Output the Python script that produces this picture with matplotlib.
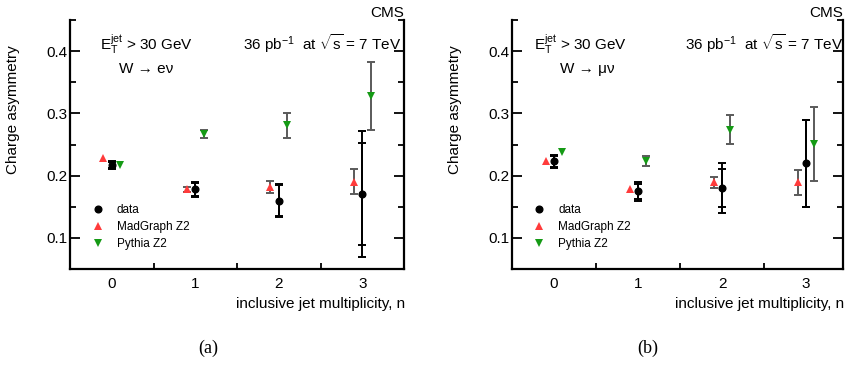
import numpy as np
import matplotlib
matplotlib.use("Agg")
import matplotlib.pyplot as plt
from matplotlib.lines import Line2D
from matplotlib.ticker import MultipleLocator, FixedLocator

plt.rcParams['font.family'] = ['Liberation Sans', 'DejaVu Sans']
plt.rcParams['mathtext.fontset'] = 'custom'
plt.rcParams['mathtext.rm'] = 'Liberation Sans'
plt.rcParams['mathtext.it'] = 'Liberation Sans'
plt.rcParams['mathtext.sf'] = 'Liberation Sans'

# inclusive jet multiplicity bins
n_jets = np.array([0, 1, 2, 3])
tick_labels = ["0", "1", "2", "3"]

# W -> e nu
data_e = np.array([0.217, 0.178, 0.160, 0.170])
data_e_stat = np.array([0.005, 0.010, 0.025, 0.082])
data_e_tot = np.array([0.0065, 0.012, 0.027, 0.101])
mg_e = np.array([0.228, 0.178, 0.182, 0.190])
mg_e_err = np.array([0.0, 0.004, 0.010, 0.020])
py_e = np.array([0.217, 0.267, 0.281, 0.328])
py_e_err = np.array([0.0, 0.007, 0.020, 0.055])

# W -> mu nu
data_m = np.array([0.223, 0.175, 0.180, 0.220])
data_m_stat = np.array([0.009, 0.012, 0.030, 0.070])
data_m_tot = np.array([0.010, 0.015, 0.040, 0.070])
mg_m = np.array([0.223, 0.178, 0.189, 0.189])
mg_m_err = np.array([0.0, 0.0, 0.009, 0.020])
py_m = np.array([0.238, 0.223, 0.274, 0.251])
py_m_err = np.array([0.0, 0.008, 0.023, 0.060])

RED = '#ff3b3b'
GREEN = '#159a15'
GREY = '#5a5a5a'
W, H = 850, 367

fig = plt.figure(figsize=(W / 100, H / 100), dpi=100)


def px_axes(x0, x1, y0, y1):
    return fig.add_axes([x0 / W, 1 - y1 / H, (x1 - x0) / W, (y1 - y0) / H])


def draw_mc(ax, x, y, err, marker, color):
    m = err > 0
    ax.errorbar(x[m], y[m], yerr=err[m], fmt='none', ecolor=GREY,
                elinewidth=1.4, capsize=2.9, capthick=1.4, zorder=2)
    ax.plot(x, y, linestyle='none', marker=marker, color=color,
            markersize=5.5, markeredgewidth=0, zorder=4)


def panel(ax, data, stat, tot, mg, mg_err, py, py_err, channel, xlim_hi,
          etx, wx, lumx, tag, tagx):
    ax.set_xlim(-0.5, xlim_hi)
    ax.set_ylim(0.05, 0.45)

    ax.errorbar(n_jets, data, yerr=tot, fmt='none', ecolor='black',
                elinewidth=1.4, capsize=2.9, capthick=1.4, zorder=3)
    ax.errorbar(n_jets, data, yerr=stat, fmt='none', ecolor='black',
                elinewidth=1.4, capsize=2.9, capthick=1.4, zorder=3)
    ax.plot(n_jets, data, linestyle='none', marker='o', color='black',
            markersize=4.8, zorder=5)
    draw_mc(ax, n_jets - 0.1, mg, mg_err, '^', RED)
    draw_mc(ax, n_jets + 0.1, py, py_err, 'v', GREEN)

    for s in ax.spines.values():
        s.set_linewidth(1.6)
    ax.spines['top'].set_linewidth(0)

    ax.xaxis.set_major_locator(FixedLocator(n_jets))
    ax.set_xticklabels(tick_labels)
    ax.xaxis.set_minor_locator(FixedLocator(n_jets[:-1] + 0.5))
    ax.yaxis.set_major_locator(MultipleLocator(0.1))
    ax.yaxis.set_minor_locator(MultipleLocator(0.05))
    ax.tick_params(axis='x', which='major', length=0, pad=6, labelsize=11)
    ax.tick_params(axis='x', which='minor', direction='in', length=4.5,
                   width=1.3, top=False)
    ax.tick_params(axis='y', which='major', direction='in', length=7.5,
                   width=1.3, pad=2, labelsize=11, right=True)
    ax.tick_params(axis='y', which='minor', direction='in', length=4.5,
                   width=1.3, right=True)

    ax.set_ylabel('Charge asymmetry', fontsize=11)
    ax.yaxis.set_label_coords(-0.15, 0.64)

    ax.text(1.004, -0.157, 'inclusive jet multiplicity, n', transform=ax.transAxes,
            ha='right', va='baseline', fontsize=11)
    ax.text(1.0, 1.014, 'CMS', transform=ax.transAxes, ha='right',
            va='baseline', fontsize=11)
    ax.text(etx, 0.879, r'E$_{\mathregular{T}}^{\mathregular{jet}}$ > 30 GeV',
            transform=ax.transAxes, ha='left', va='baseline', fontsize=11)
    ax.text(wx, 0.786, channel, transform=ax.transAxes, ha='left',
            va='baseline', fontsize=11)
    ax.text(lumx, 0.879,
            r'36 pb$^{\mathregular{-1}}$  at $\sqrt{\mathregular{s}}$ = 7 TeV',
            transform=ax.transAxes, ha='left', va='baseline', fontsize=11)

    handles = [
        Line2D([], [], linestyle='none', marker='o', color='black', markersize=4.8),
        Line2D([], [], linestyle='none', marker='^', color=RED, markersize=5.5,
               markeredgewidth=0),
        Line2D([], [], linestyle='none', marker='v', color=GREEN, markersize=5.5,
               markeredgewidth=0),
    ]
    ax.legend(handles, ['data', 'MadGraph Z2', 'Pythia Z2'], loc='upper left',
              bbox_to_anchor=(0.065, 0.262), frameon=False, fontsize=8.5,
              borderpad=0, borderaxespad=0, handlelength=1.0,
              handletextpad=1.1, labelspacing=0.45)

    fig.text(tagx / W, 1 - 348 / H, tag, ha='center', va='center',
             fontsize=13, family='Liberation Serif')


ax1 = px_axes(70, 404, 20, 269)
panel(ax1, data_e, data_e_stat, data_e_tot, mg_e, mg_e_err, py_e, py_e_err,
      'W \u2192 e\u03bd', 3.5, 0.09, 0.147, 0.518, '(a)', 208)

ax2 = px_axes(512, 843, 20, 269)
panel(ax2, data_m, data_m_stat, data_m_tot, mg_m, mg_m_err, py_m, py_m_err,
      'W \u2192 \u03bc\u03bd', 3.44, 0.067, 0.145, 0.523, '(b)', 648)

fig.savefig('out.png', dpi=100)
